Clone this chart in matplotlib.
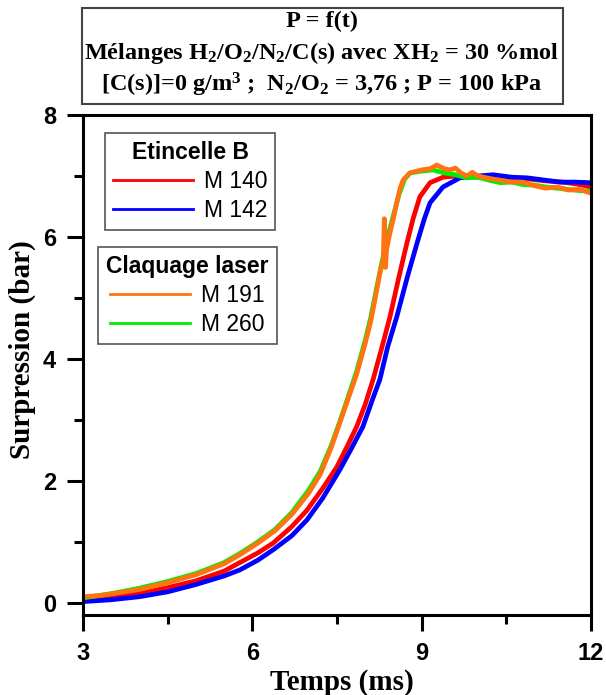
import matplotlib
matplotlib.use("Agg")
import matplotlib.pyplot as plt
from matplotlib.patches import Rectangle
from matplotlib.lines import Line2D

plt.rcParams['mathtext.fontset'] = 'custom'
plt.rcParams['mathtext.rm'] = 'Liberation Serif:bold'
plt.rcParams['mathtext.bf'] = 'Liberation Serif:bold'
plt.rcParams['mathtext.it'] = 'Liberation Serif:bold:italic'

# M 140 (Etincelle B)
t_140 = [3.0, 3.5, 4.0, 4.5, 5.0, 5.5, 5.78, 6.1, 6.37, 6.7, 6.97, 7.25, 7.5, 7.7,
         7.85, 8.0, 8.14, 8.3, 8.44, 8.6, 8.74, 8.85, 8.97, 9.15, 9.38, 9.6, 9.8,
         10.0, 10.3, 10.6, 10.9, 11.2, 11.5, 11.8, 12.0]
p_140 = [0.05, 0.08, 0.15, 0.25, 0.36, 0.52, 0.66, 0.82, 0.98, 1.25, 1.52, 1.88, 2.23, 2.6,
         2.89, 3.25, 3.66, 4.2, 4.69, 5.35, 5.9, 6.3, 6.66, 6.89, 6.98, 7.0, 7.0,
         6.98, 6.97, 6.96, 6.95, 6.92, 6.9, 6.86, 6.82]

# M 142 (Etincelle B)
t_142 = [3.0, 3.5, 4.0, 4.5, 5.0, 5.5, 5.78, 6.1, 6.37, 6.7, 6.97, 7.25, 7.55, 7.75,
         7.96, 8.14, 8.26, 8.4, 8.56, 8.75, 8.92, 9.05, 9.15, 9.38, 9.68, 10.0, 10.27,
         10.6, 10.87, 11.2, 11.45, 11.7, 12.0]
p_142 = [0.02, 0.05, 0.1, 0.18, 0.3, 0.44, 0.54, 0.7, 0.87, 1.1, 1.36, 1.72, 2.18, 2.52,
         2.89, 3.36, 3.66, 4.2, 4.69, 5.35, 5.9, 6.3, 6.56, 6.82, 6.97, 7.0, 7.02,
         6.98, 6.97, 6.93, 6.9, 6.9, 6.89]

# M 191 (Claquage laser)
t_191 = [3.0, 3.3, 3.6, 4.0, 4.5, 5.0, 5.5, 5.8, 6.1, 6.4, 6.7, 7.0, 7.2, 7.4, 7.55,
         7.7, 7.85, 8.0, 8.1, 8.2, 8.27, 8.32, 8.34, 8.36, 8.38, 8.44, 8.5, 8.56, 8.62,
         8.67, 8.79, 9.0, 9.15, 9.27, 9.4, 9.5, 9.6, 9.7, 9.8, 9.9, 10.0, 10.2, 10.4,
         10.6, 10.8, 11.0, 11.2, 11.4, 11.6, 11.8, 12.0]
p_191 = [0.1, 0.12, 0.16, 0.22, 0.33, 0.46, 0.64, 0.8, 0.98, 1.18, 1.45, 1.8, 2.1, 2.55, 2.95,
         3.35, 3.75, 4.25, 4.62, 5.1, 5.45, 5.6, 6.3, 5.5, 5.8, 6.07, 6.3, 6.56, 6.8,
         6.93, 7.05, 7.1, 7.12, 7.18, 7.12, 7.1, 7.13, 7.05, 7.0, 7.06, 7.0, 6.96, 6.93,
         6.9, 6.9, 6.84, 6.8, 6.82, 6.77, 6.78, 6.72]

# M 260 (Claquage laser)
t_260 = [3.0, 3.5, 4.0, 4.5, 5.0, 5.5, 5.8, 6.1, 6.4, 6.7, 7.0, 7.2, 7.4, 7.55, 7.7,
         7.85, 8.0, 8.1, 8.2, 8.3, 8.4, 8.5, 8.6, 8.7, 8.8, 9.0, 9.2, 9.4, 9.6, 9.8,
         10.0, 10.2, 10.4, 10.6, 10.8, 11.0, 11.2, 11.4, 11.6, 11.8, 12.0]
p_260 = [0.08, 0.15, 0.24, 0.35, 0.48, 0.66, 0.82, 1.0, 1.2, 1.48, 1.85, 2.15, 2.58, 2.97, 3.38,
         3.8, 4.3, 4.68, 5.15, 5.6, 6.0, 6.35, 6.7, 6.95, 7.05, 7.08, 7.1, 7.05, 7.02, 6.97,
         6.98, 6.93, 6.89, 6.9, 6.86, 6.85, 6.82, 6.8, 6.78, 6.76, 6.75]

c_red, c_blue, c_orange, c_green = "#ff0000", "#0000ff", "#ff7410", "#00ee00"

fig = plt.figure(figsize=(6.06, 6.95), dpi=100)
ax = fig.add_axes([0.137, 0.1151, 0.838, 0.7194])

ax.plot(t_140, p_140, c=c_red, lw=3.4)
ax.plot(t_142, p_142, c=c_blue, lw=3.4)
ax.plot(t_260, p_260, c=c_green, lw=3.4)
ax.plot(t_191, p_191, c=c_orange, lw=3.4)

ax.set_xlim(3, 12)
ax.set_ylim(-0.2, 8)
ax.set_xticks([3, 6, 9, 12])
ax.set_xticks([4.5, 7.5, 10.5], minor=True)
ax.set_yticks([0, 2, 4, 6, 8])
ax.set_yticks([1, 3, 5, 7], minor=True)
for s in ax.spines.values():
    s.set_linewidth(2.2)
ax.tick_params(which="major", direction="out", length=11.5, width=2.2, pad=8,
               labelsize=17)
ax.tick_params(which="minor", direction="out", length=6.5, width=2.2)
for lab in ax.get_xticklabels() + ax.get_yticklabels():
    lab.set_fontfamily("Liberation Sans")
    lab.set_fontweight("bold")

ax.set_xlabel("Temps (ms)", family="Liberation Serif", weight="bold", fontsize=21)
ax.set_ylabel("Surpression (bar)", family="Liberation Serif", weight="bold", fontsize=21)
ax.xaxis.set_label_coords(0.51, -0.108)
ax.yaxis.set_label_coords(-0.093, 0.53)

# legends
leg_kw = dict(prop={"family": "Liberation Sans", "size": 16.5},
              title_fontproperties={"family": "Liberation Sans", "weight": "bold", "size": 16.5},
              frameon=True, fancybox=False, edgecolor="#555555", framealpha=1,
              handlelength=3.5, handletextpad=0.45, borderpad=0.35, labelspacing=0.27,
              borderaxespad=0, loc="upper left")
h1 = [Line2D([], [], c=c_red, lw=2), Line2D([], [], c=c_blue, lw=2)]
leg1 = ax.legend(h1, ["M 140", "M 142"], title="Etincelle B",
                 bbox_to_anchor=(105 / 606, 1 - 133 / 695), bbox_transform=fig.transFigure,
                 **leg_kw)
leg1.get_frame().set_linewidth(1.2)
ax.add_artist(leg1)
h2 = [Line2D([], [], c=c_orange, lw=2), Line2D([], [], c=c_green, lw=2)]
leg2 = ax.legend(h2, ["M 191", "M 260"], title="Claquage laser",
                 bbox_to_anchor=(98 / 606, 1 - 247 / 695), bbox_transform=fig.transFigure,
                 **leg_kw)
leg2.get_frame().set_linewidth(1.2)

# title box
fig.add_artist(Rectangle((82 / 606, 1 - 104 / 695), 481 / 606, 96 / 695,
                         transform=fig.transFigure, fill=False, ec="#444444", lw=1.5))
tkw = dict(ha="center", va="center", family="Liberation Serif", weight="bold", fontsize=17.5)
fig.text(322 / 606, 1 - 21 / 695, "P = f(t)", **tkw)
fig.text(322 / 606, 1 - 53 / 695,
         "Mélanges H$_2$/O$_2$/N$_2$/C(s) avec XH$_2$ = 30 %mol", **tkw)
fig.text(322 / 606, 1 - 85 / 695,
         "[C(s)]=0 g/m$^3$ ;  N$_2$/O$_2$ = 3,76 ; P = 100 kPa", **tkw)

fig.savefig("out.png", dpi=100)
